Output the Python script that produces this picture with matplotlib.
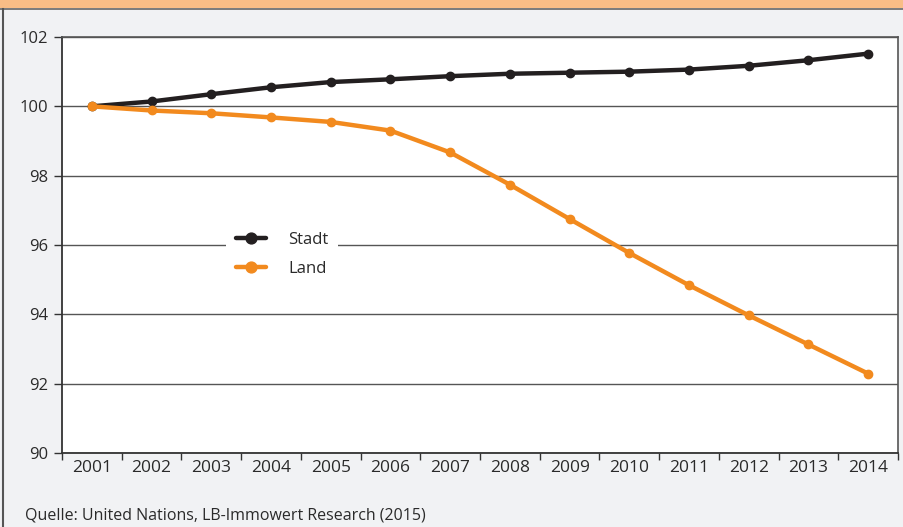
import matplotlib.pyplot as plt
import numpy as np
from matplotlib.patches import Rectangle
from matplotlib.lines import Line2D

plt.rcParams['font.family'] = ['Open Sans', 'DejaVu Sans']

# data
years = ['2001', '2002', '2003', '2004', '2005', '2006', '2007',
         '2008', '2009', '2010', '2011', '2012', '2013', '2014']
stadt = [100.0, 100.14, 100.35, 100.55, 100.70, 100.78, 100.87,
         100.94, 100.97, 101.00, 101.06, 101.17, 101.33, 101.52]
land = [100.0, 99.88, 99.80, 99.68, 99.55, 99.30, 98.67,
        97.74, 96.75, 95.77, 94.84, 93.97, 93.13, 92.29]
y_ticks = [90, 92, 94, 96, 98, 100, 102]
source = 'Quelle: United Nations, LB-Immowert Research (2015)'

bg = '#f1f2f4'
txt = '#2a2a2a'

fig = plt.figure(figsize=(9.04, 5.27), dpi=100, facecolor=bg)

# orange header strip and frame lines
fig.patches.append(Rectangle((0, 1 - 8/527), 1, 8/527, transform=fig.transFigure,
                             facecolor='#f9bd86', edgecolor='none', zorder=0))
fig.lines.append(Line2D([0, 1], [1 - 9/527, 1 - 9/527], transform=fig.transFigure,
                        color='#666666', lw=1.2))
fig.lines.append(Line2D([3/904, 3/904], [0, 1 - 9/527], transform=fig.transFigure,
                        color='#555555', lw=1.5))

ax = fig.add_axes([62/904, 74/527, 836/904, 416/527])
ax.set_facecolor('white')

x = np.arange(len(years))
ax.plot(x, stadt, color='#231f20', lw=3.2, marker='o', ms=6, label='Stadt',
        solid_capstyle='round', zorder=3)
ax.plot(x, land, color='#f28a1e', lw=3.2, marker='o', ms=6, label='Land',
        solid_capstyle='round', zorder=3)

ax.set_xlim(-0.5, len(years) - 0.5)
ax.set_ylim(90, 102)
ax.set_yticks(y_ticks)
ax.set_yticklabels([str(v) for v in y_ticks], fontsize=12, color=txt)
ax.set_xticks(x)
ax.set_xticklabels(years, fontsize=12.5, color=txt)
ax.set_xticks(np.arange(-0.5, len(years)), minor=True)
ax.tick_params(axis='x', which='major', length=0, pad=5)
ax.tick_params(axis='x', which='minor', length=5, width=1, color='#333333', direction='out')
ax.tick_params(axis='y', length=6, width=1, color='#333333', direction='out', pad=4)

ax.grid(axis='y', color='#555555', lw=1)
ax.set_axisbelow(True)
for s in ['left', 'bottom']:
    ax.spines[s].set_color('#333333')
    ax.spines[s].set_linewidth(1.3)
for s in ['top', 'right']:
    ax.spines[s].set_color('#555555')
    ax.spines[s].set_linewidth(1.2)

leg = ax.legend(loc='center', bbox_to_anchor=(0.2635, 0.477), frameon=True,
                facecolor='white', edgecolor='none', framealpha=1, fancybox=False,
                fontsize=12, handlelength=1.8, borderpad=0.6, labelspacing=0.75,
                handletextpad=1.3, numpoints=1, markerscale=1.3)
for t in leg.get_texts():
    t.set_color(txt)

fig.text(25/904, 1 - 519/527, source, fontsize=11.5, color=txt, va='baseline', ha='left')

fig.savefig('out.png', dpi=100, facecolor=bg)
